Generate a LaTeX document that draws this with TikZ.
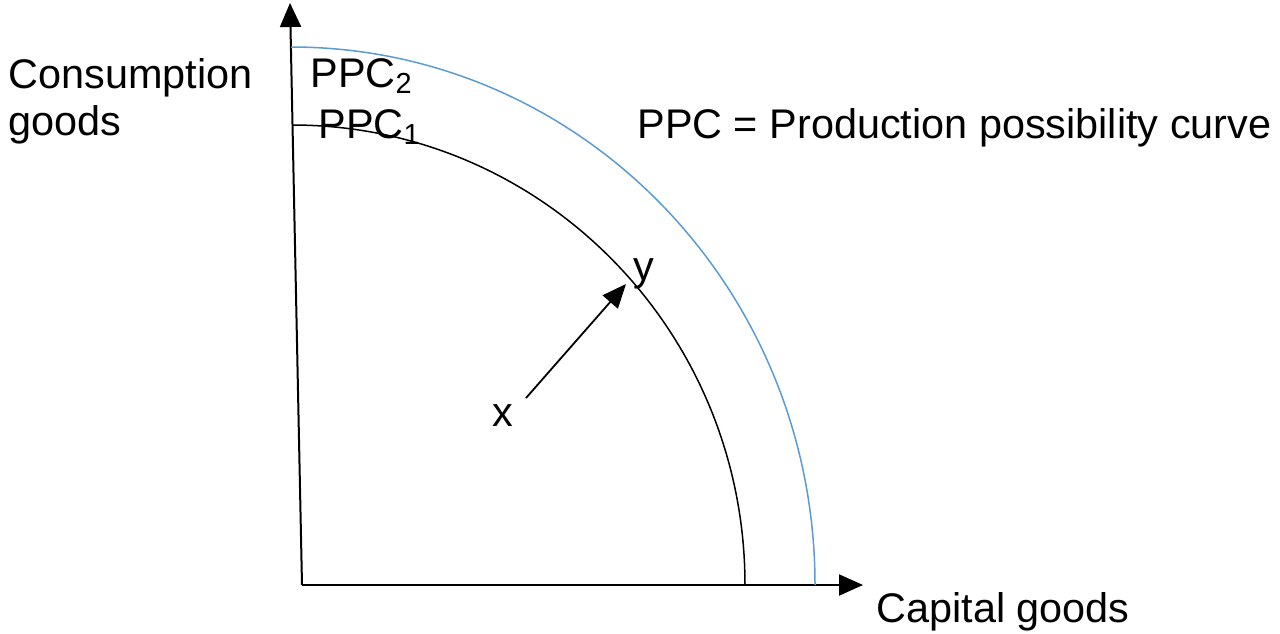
\documentclass[tikz,border=0pt]{standalone}
\usepackage{fontspec}
\setmainfont{Liberation Sans}
\usepackage{tikz}
\usetikzlibrary{positioning, arrows.meta, calc}

\definecolor{ppcblue}{RGB}{91,155,213}

\begin{document}
\begin{tikzpicture}[
                x=0.5pt, y=-0.5pt,
                axis/.style={draw=black, line width=1pt, -{Triangle[length=12pt, width=10.5pt]}},
                curve/.style={line width=0.75pt},
                movearrow/.style={draw=black, line width=0.9pt, -{Triangle[length=12pt, width=10pt]}},
                txt/.style={font=\fontsize{20.7}{25}\selectfont, inner sep=0pt, anchor=base west}
            ]
            \useasboundingbox (0,0) rectangle (1280,633);

            % Achsen
            \coordinate (O) at (302,585);
            \coordinate (ytop) at (290,3);
            \coordinate (xend) at (863,585);
            \draw[axis] (O) -- (ytop);
            \draw[axis] (O) -- (xend);

            % Kurven
            \coordinate (c1) at (292,125);
            \coordinate (c2) at (291,47);
            \draw[curve, black] (c1) arc[start angle=-90, end angle=0, x radius=453, y radius=460];
            \draw[curve, ppcblue] (c2) arc[start angle=-90, end angle=0, x radius=524, y radius=538];

            % Beschriftungen
            \node[txt] (cons) at (8,88) {Consumption};
            \node[txt] (goods) at (8,135) {goods};
            \node[txt] (ppc2) at (310,87) {PPC$_{\mathrm{2}}$};
            \node[txt] (ppc1) at (318,138) {PPC$_{\mathrm{1}}$};
            \node[txt] (def) at (637,138) {PPC = Production possibility curve};
            \node[txt] (cap) at (876,622) {Capital goods};
            \node[txt] (x) at (492,426) {x};
            \node[txt] (y) at (633,280) {y};

            % Verschiebung x -> y
            \coordinate (xa) at (526,398);
            \coordinate (ya) at (626,284);
            \draw[movearrow] (xa) -- (ya);

        \end{tikzpicture}
\end{document}
